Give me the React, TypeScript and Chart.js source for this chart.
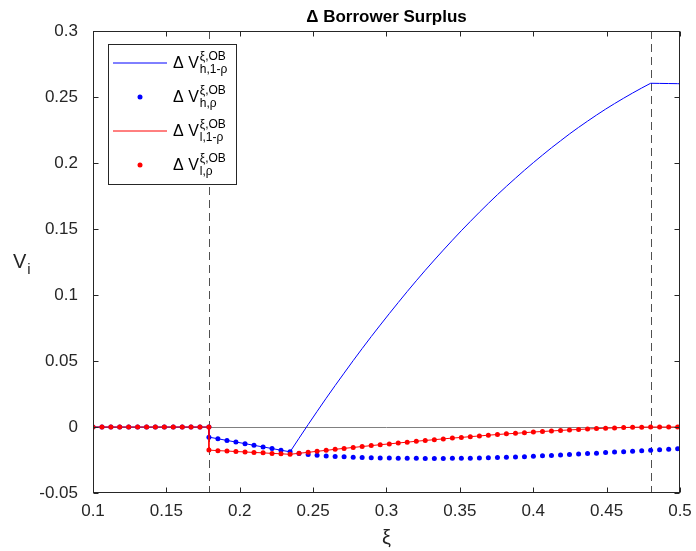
import React, { useEffect, useRef } from "react";
import { Chart, registerables } from "chart.js";

Chart.register(...registerables);

// ---------- data ----------
const xiLow = [0.1, 0.1061, 0.1122, 0.1182, 0.1243, 0.1304, 0.1365, 0.1425, 0.1486, 0.1547, 0.1608, 0.1668, 0.1729, 0.179];
const zeroLow = [0, 0, 0, 0, 0, 0, 0, 0, 0, 0, 0, 0, 0, 0];

const xiHigh = [
  0.179, 0.1851, 0.1913, 0.1974, 0.2036, 0.2097, 0.2159, 0.222, 0.2281, 0.2343,
  0.2404, 0.2466, 0.2527, 0.2589, 0.265, 0.2711, 0.2773, 0.2834, 0.2896, 0.2957,
  0.3019, 0.308, 0.3141, 0.3203, 0.3264, 0.3326, 0.3387, 0.3449, 0.351, 0.3571,
  0.3633, 0.3694, 0.3756, 0.3817, 0.3879, 0.394, 0.4001, 0.4063, 0.4124, 0.4186,
  0.4247, 0.4309, 0.437, 0.4431, 0.4493, 0.4554, 0.4616, 0.4677, 0.4739, 0.48,
  0.4861, 0.4923, 0.4984,
];
const xiEnd = 0.5;

// Delta V^{xi,OB}_{h,1-rho}
const hOneMinusRho = [
  -0.0077, -0.0089, -0.0102, -0.0114, -0.0126, -0.0139, -0.0151, -0.0163, -0.0176, -0.0188,
  -0.0085, 0.0018, 0.0118, 0.0218, 0.0314, 0.0408, 0.0503, 0.0594, 0.0685, 0.0772,
  0.0859, 0.0943, 0.1026, 0.1108, 0.1187, 0.1265, 0.134, 0.1415, 0.1487, 0.1557,
  0.1627, 0.1694, 0.176, 0.1823, 0.1885, 0.1945, 0.2003, 0.206, 0.2115, 0.2168,
  0.222, 0.227, 0.2317, 0.2363, 0.2408, 0.245, 0.2491, 0.253, 0.2568, 0.2604,
  0.2603, 0.2602, 0.2601,
];
const hOneMinusRhoEnd = 0.26;

// Delta V^{xi,OB}_{h,rho}
const hRho = [
  -0.0077, -0.0089, -0.0102, -0.0114, -0.0126, -0.0139, -0.0151, -0.0163, -0.0176, -0.0188,
  -0.02, -0.0208, -0.0214, -0.0219, -0.0223, -0.0226, -0.0229, -0.0231, -0.0233, -0.0234,
  -0.0235, -0.0236, -0.0237, -0.0237, -0.0238, -0.0238, -0.0238, -0.0237, -0.0237, -0.0236,
  -0.0235, -0.0233, -0.0232, -0.023, -0.0228, -0.0225, -0.0221, -0.0218, -0.0215, -0.0212,
  -0.0208, -0.0205, -0.0201, -0.0198, -0.0194, -0.019, -0.0187, -0.0183, -0.018, -0.0176,
  -0.0172, -0.0168, -0.0164,
];

// Delta V^{xi,OB}_{l,1-rho} and Delta V^{xi,OB}_{l,rho} (coincide)
const lSeries = [
  -0.0175, -0.0179, -0.0182, -0.0186, -0.0189, -0.0193, -0.0196, -0.02, -0.0203, -0.0207,
  -0.0199, -0.0192, -0.0184, -0.0177, -0.0169, -0.0162, -0.0155, -0.0148, -0.0141, -0.0134,
  -0.0128, -0.0121, -0.0115, -0.0108, -0.0102, -0.0096, -0.009, -0.0084, -0.0079, -0.0073,
  -0.0068, -0.0062, -0.0057, -0.0052, -0.0048, -0.0043, -0.0038, -0.0034, -0.003, -0.0026,
  -0.0022, -0.0019, -0.0015, -0.0012, -0.0009, -0.0007, -0.0004, -0.0002, -0.0001, 0,
  0, 0, 0,
];
const lSeriesEnd = 0;

const thresholdXs = [0.179, 0.48];
const zeroLineValue = 0;

const xTicks = [0.1, 0.15, 0.2, 0.25, 0.3, 0.35, 0.4, 0.45, 0.5];
const xTickLabels = ["0.1", "0.15", "0.2", "0.25", "0.3", "0.35", "0.4", "0.45", "0.5"];
const yTicks = [-0.05, 0, 0.05, 0.1, 0.15, 0.2, 0.25, 0.3];
const yTickLabels = ["-0.05", "0", "0.05", "0.1", "0.15", "0.2", "0.25", "0.3"];

const titleText = "\u0394 Borrower Surplus";
const xLabelText = "\u03BE";
const yLabelMain = "V";
const yLabelSub = "i";
const legendSup = "\u03BE,OB";
const legendSubs = ["h,1-\u03C1", "h,\u03C1", "l,1-\u03C1", "l,\u03C1"];

// ---------- helpers ----------
const FONT = '"Liberation Sans", Arial, Helvetica, sans-serif';
const AX = "#262626";
const BLUE = "#0000ff";
const RED = "#ff0000";

function pts(xs: number[], ys: number[]) {
  return xs.map((x, i) => ({ x, y: ys[i] }));
}

const matlabPlugin = {
  id: "matlabLook",
  beforeDatasetsDraw(chart: any) {
    const { ctx, chartArea: a, scales } = chart;
    const x = scales.x;
    const y = scales.y;
    ctx.save();
    ctx.lineWidth = 1;
    ctx.strokeStyle = "#808080";
    const y0 = Math.round(y.getPixelForValue(zeroLineValue)) + 0.5;
    ctx.beginPath();
    ctx.moveTo(a.left, y0);
    ctx.lineTo(a.right, y0);
    ctx.stroke();
    ctx.strokeStyle = "#505050";
    ctx.setLineDash([8, 5]);
    for (const v of thresholdXs) {
      const px = Math.round(x.getPixelForValue(v)) + 0.5;
      ctx.beginPath();
      ctx.moveTo(px, a.top);
      ctx.lineTo(px, a.bottom);
      ctx.stroke();
    }
    ctx.restore();
  },
  afterDraw(chart: any) {
    const { ctx, chartArea: a, scales } = chart;
    const x = scales.x;
    const y = scales.y;
    ctx.save();
    // box
    ctx.strokeStyle = AX;
    ctx.lineWidth = 1;
    const L = Math.round(a.left) + 0.5;
    const R = Math.round(a.right) - 0.5;
    const T = Math.round(a.top) + 0.5;
    const B = Math.round(a.bottom) - 0.5;
    ctx.strokeRect(L, T, R - L, B - T);
    // ticks inward
    const tl = 5;
    ctx.beginPath();
    for (const v of xTicks) {
      const px = Math.round(x.getPixelForValue(v)) + 0.5;
      ctx.moveTo(px, B);
      ctx.lineTo(px, B - tl);
      ctx.moveTo(px, T);
      ctx.lineTo(px, T + tl);
    }
    for (const v of yTicks) {
      const py = Math.round(y.getPixelForValue(v)) + 0.5;
      ctx.moveTo(L, py);
      ctx.lineTo(L + tl, py);
      ctx.moveTo(R, py);
      ctx.lineTo(R - tl, py);
    }
    ctx.stroke();

    // title
    ctx.fillStyle = "#000";
    ctx.font = `bold 17px ${FONT}`;
    ctx.textAlign = "center";
    ctx.textBaseline = "alphabetic";
    ctx.fillText(titleText, (a.left + a.right) / 2, 22);

    // x label
    ctx.fillStyle = AX;
    ctx.font = `20px ${FONT}`;
    ctx.fillText(xLabelText, (a.left + a.right) / 2, 544);

    // y label
    ctx.textAlign = "left";
    ctx.font = `20px ${FONT}`;
    ctx.fillText(yLabelMain, 13, 268);
    const vw = ctx.measureText(yLabelMain).width;
    ctx.font = `15px ${FONT}`;
    ctx.fillText(yLabelSub, 13 + vw + 1, 274);

    // legend
    const lx = 108.5, ly = 44.5, lw = 128, lh = 140;
    ctx.fillStyle = "#fff";
    ctx.fillRect(lx, ly, lw, lh);
    ctx.strokeStyle = AX;
    ctx.strokeRect(lx, ly, lw, lh);
    const rows = [63, 97, 131, 165];
    const cols = [BLUE, BLUE, RED, RED];
    rows.forEach((ry, i) => {
      ctx.strokeStyle = cols[i];
      ctx.fillStyle = cols[i];
      if (i % 2 === 0) {
        ctx.lineWidth = 1;
        ctx.beginPath();
        ctx.moveTo(113, ry);
        ctx.lineTo(167, ry);
        ctx.stroke();
      } else {
        ctx.beginPath();
        ctx.arc(140, ry, 2.5, 0, Math.PI * 2);
        ctx.fill();
      }
      ctx.fillStyle = "#000";
      ctx.textAlign = "left";
      ctx.font = `16px ${FONT}`;
      ctx.fillText("\u0394 V", 173, ry + 5);
      const w = ctx.measureText("\u0394 V").width;
      ctx.font = `12px ${FONT}`;
      ctx.fillText(legendSup, 173 + w + 1, ry - 3);
      ctx.fillText(legendSubs[i], 173 + w + 1, ry + 10);
    });
    ctx.restore();
  },
};

export default function App() {
  const ref = useRef<HTMLCanvasElement>(null);
  useEffect(() => {
    const canvas = ref.current;
    if (!canvas) return;
    const lineData = (lowY: number[], highX: number[], highY: number[], endY?: number) => {
      const d = [...pts(xiLow, lowY), ...pts(highX, highY)];
      if (endY !== undefined) d.push({ x: xiEnd, y: endY });
      return d;
    };
    const chart = new Chart(canvas, {
      type: "scatter",
      data: {
        datasets: [
          {
            label: "l,rho",
            data: lineData(zeroLow, xiHigh, lSeries),
            showLine: false,
            pointRadius: 2.5,
            pointBackgroundColor: RED,
            pointBorderWidth: 0,
            order: 0,
          },
          {
            label: "l,1-rho",
            data: lineData(zeroLow, xiHigh, lSeries, lSeriesEnd),
            showLine: true,
            borderColor: RED,
            borderWidth: 1,
            pointRadius: 0,
            order: 1,
          },
          {
            label: "h,rho",
            data: lineData(zeroLow, xiHigh, hRho),
            showLine: false,
            pointRadius: 2.5,
            pointBackgroundColor: BLUE,
            pointBorderWidth: 0,
            order: 2,
          },
          {
            label: "h,1-rho",
            data: lineData(zeroLow, xiHigh, hOneMinusRho, hOneMinusRhoEnd),
            showLine: true,
            borderColor: BLUE,
            borderWidth: 1,
            pointRadius: 0,
            order: 3,
          },
        ] as any,
      },
      options: {
        responsive: false,
        animation: false,
        devicePixelRatio: 1,
        layout: { padding: { left: 0, right: 16, top: 31, bottom: 0 } },
        scales: {
          x: {
            type: "linear",
            min: 0.1,
            max: 0.5,
            afterFit: (s: any) => {
              s.height = 58;
            },
            afterBuildTicks: (s: any) => {
              s.ticks = xTicks.map((v) => ({ value: v }));
            },
            ticks: {
              callback: (_v: any, i: number) => xTickLabels[i],
              font: { family: FONT, size: 17 },
              color: AX,
              padding: 0,
              maxRotation: 0,
              autoSkip: false,
            },
            grid: { display: false },
            border: { display: false },
          },
          y: {
            type: "linear",
            min: -0.05,
            max: 0.3,
            afterFit: (s: any) => {
              s.width = 93;
            },
            afterBuildTicks: (s: any) => {
              s.ticks = yTicks.map((v) => ({ value: v }));
            },
            ticks: {
              callback: (_v: any, i: number) => yTickLabels[i],
              font: { family: FONT, size: 17 },
              color: AX,
              padding: 7,
              autoSkip: false,
            },
            grid: { display: false },
            border: { display: false },
          },
        },
        plugins: {
          legend: { display: false },
          tooltip: { enabled: false },
          title: { display: false },
        },
      } as any,
      plugins: [matlabPlugin],
    });
    return () => chart.destroy();
  }, []);
  return (
    <div style={{ position: "fixed", left: 0, top: 0, width: 696, height: 551, background: "#fff" }}>
      <canvas ref={ref} width={696} height={551} style={{ display: "block", width: 696, height: 551 }} />
    </div>
  );
}
